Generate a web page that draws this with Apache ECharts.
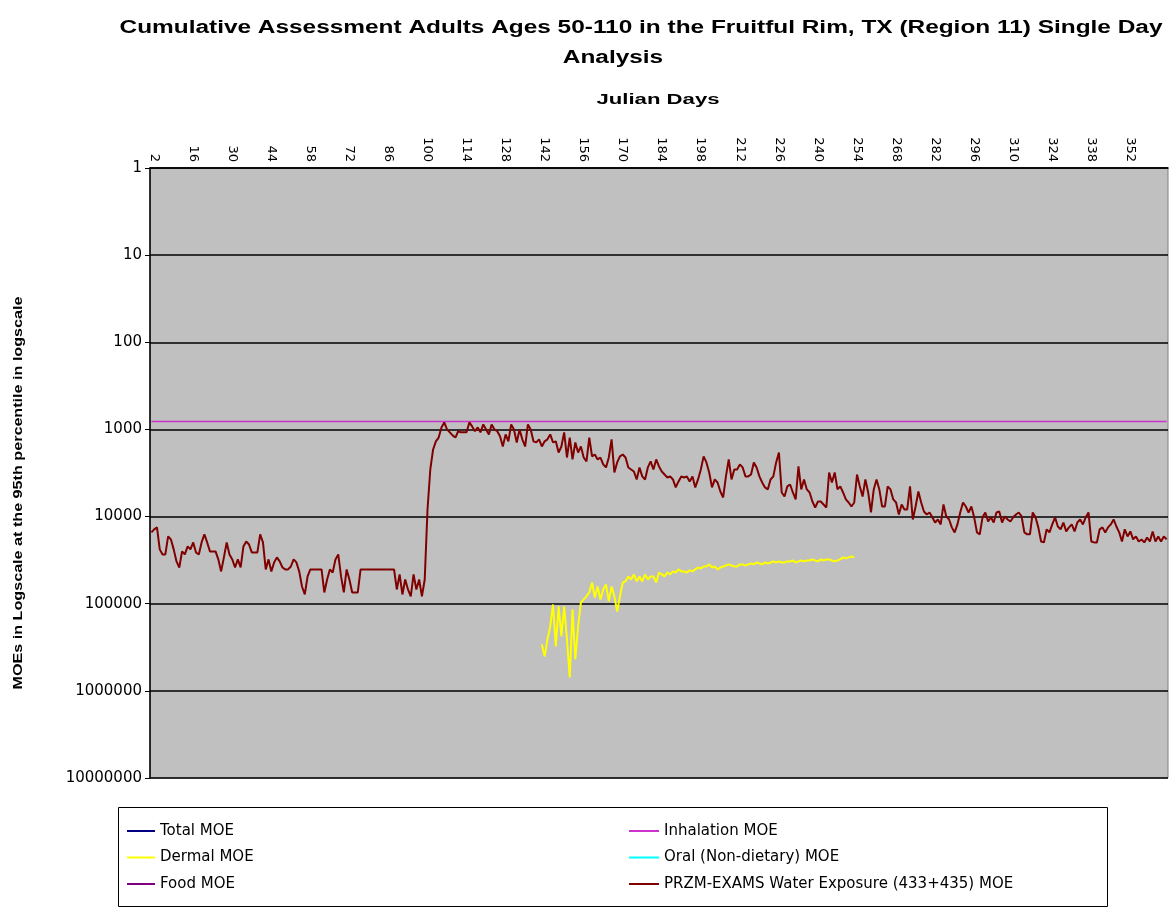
<!DOCTYPE html>
<html>
<head>
<meta charset="utf-8">
<script src="https://cdn.jsdelivr.net/npm/echarts@6/dist/echarts.min.js"></script>
<style>
html,body{margin:0;padding:0;background:#fff;}
#chart{width:1169px;height:907px;}
</style>
</head>
<body>
<div id="chart"></div>
<script>
// ---------------- DATA ----------------
const titleLine1 = 'Cumulative Assessment Adults Ages 50-110 in the Fruitful Rim, TX (Region 11) Single Day';
const titleLine2 = 'Analysis';
const xAxisName = 'Julian Days';
const yAxisName = 'MOEs in Logscale at the 95th percentile in logscale';

const days = Array.from({length: 365}, (_, i) => String(i + 1));

const seriesNames = ['Total MOE', 'Dermal MOE', 'Food MOE', 'Inhalation MOE',
  'Oral (Non-dietary) MOE', 'PRZM-EXAMS Water Exposure (433+435) MOE'];

// PRZM-EXAMS water exposure MOE, days 1..365
const waterMOE = [
  15200,14000,13300,23800,27200,27200,16900,18300,23800,32700,
  38400,25100,27200,22000,23800,19800,25800,27200,19800,16000,
  19800,25100,25100,25100,31000,42600,29400,19800,27200,31000,
  38400,31000,38400,22000,19300,20900,25800,25800,25800,16000,
  19800,40400,31000,42600,33600,29400,32700,38400,40400,40400,
  37400,31000,33600,42600,63400,78300,48600,40400,40400,40400,
  40400,40400,74200,52700,40400,43800,31000,27200,48600,74200,
  40400,52700,74200,74200,74200,40400,40400,40400,40400,40400,
  40400,40400,40400,40400,40400,40400,40400,40400,68600,46100,
  78300,52700,68600,82500,46100,68600,52700,82500,52700,8290,
  2880,1700,1370,1240,948,831,1000,1080,1170,1240,
  1050,1080,1080,1080,831,924,1050,948,1080,876,
  1000,1140,876,1000,1050,1200,1570,1140,1370,876,
  1000,1410,1000,1300,1570,876,1000,1370,1410,1300,
  1570,1370,1300,1140,1410,1370,1840,1570,1080,2100,
  1240,2210,1410,1840,1570,2100,2330,1240,2040,1940,
  2210,2100,2520,2730,2100,1300,3120,2390,2040,1940,
  2100,2730,2880,3040,3750,2730,3460,3750,2730,2330,
  2880,2210,2660,3040,3290,3560,3460,3750,4630,3950,
  3460,3560,3460,3950,3460,4630,3750,2880,2040,2390,
  3120,4630,3750,4060,5150,6040,3460,2210,3750,2880,
  2880,2520,2730,3460,3460,3290,2390,2730,3460,4060,
  4630,4880,3750,3460,2390,1840,5290,5880,4510,4280,
  5290,6360,2660,4880,3750,4880,5290,6710,7860,6710,
  6710,7260,7860,3120,4060,3120,4880,4510,5290,6360,
  6890,7660,6890,3290,4510,5880,3750,5290,8970,4880,
  3750,4880,7660,7660,4510,4880,6360,6890,9460,7260,
  8290,8290,4510,10800,7660,5150,6890,8740,9460,8970,
  10200,11700,10800,12300,7260,9960,10800,13300,15200,12300,
  8970,6890,7660,8970,7660,10200,15200,16000,10200,8970,
  11400,10200,11700,8970,8740,11700,9960,10800,11400,10200,
  9460,8970,9960,15200,16000,16000,8970,10200,13300,19300,
  19800,14000,15200,12300,10200,13000,14000,11700,14800,13300,
  12300,14800,11700,10800,12300,10200,8970,19300,19800,19800,
  14000,13300,15200,13300,12300,10800,13000,15200,19300,14000,
  16900,14800,18300,16900,19300,18300,19800,17400,19300,14800,
  19300,16900,19300,16900,18300
];

// Dermal MOE, days 141..253
const dermalStartDay = 141;
const dermalMOE = [
  293000,403000,257000,182000,102000,309000,107000,237000,107000,257000,
  702000,116000,436000,182000,96800,89300,82500,74200,57000,85000,
  63400,89300,68600,60100,94000,63400,82500,123000,82500,57000,
  55500,48600,52700,46100,55500,48600,55500,46100,52700,48600,
  48600,57000,43800,46100,48600,43800,46100,42600,43800,40400,
  42600,42600,43800,41500,42600,40400,38400,39400,37400,37400,
  35400,38400,37400,40400,38400,37400,36400,35400,36400,37400,
  37400,35400,35400,36400,35400,34500,35400,33600,34500,35400,
  33600,34500,33600,32700,33600,32700,33600,33600,32700,32700,
  31900,33600,32700,31900,32700,31900,31900,31000,31900,32700,
  31000,31900,31000,31000,31900,32700,31900,31000,29400,30200,
  29400,28700,29400
];

// Inhalation MOE (constant over the year)
const inhalationMOE = 810;

// No visible data for these series in the chart
const totalMOE = [];
const foodMOE = [];
const oralMOE = [];

// ---------------- BUILD ----------------
const dermalSeries = days.map((d, i) => {
  const k = i + 1 - dermalStartDay;
  return (k >= 0 && k < dermalMOE.length) ? dermalMOE[k] : null;
});
const inhalationSeries = days.map(() => inhalationMOE);

const mctx = document.createElement('canvas').getContext('2d');
function fitScale(text, font, target) {
  mctx.font = font;
  return target / mctx.measureText(text).width;
}
const titleFont = 'bold 18px "Liberation Sans"';
const titleScale = fitScale(titleLine1, titleFont, 1043);
const jdFont = 'bold 14px "Liberation Sans"';
const jdScale = fitScale(xAxisName, jdFont, 123);
const ynFont = 'bold 13px "Liberation Sans"';
const ynScale = fitScale(yAxisName, ynFont, 393);

const colors = ['#000080', '#ffff00', '#800080', '#cc33cc', '#00ffff', '#800000'];

const chart = echarts.init(document.getElementById('chart'), null, {renderer: 'canvas'});

const legendText = {color: '#000', fontFamily: 'DejaVu Sans', fontSize: 15, lineHeight: 18};

const option = {
  animation: false,
  color: colors,
  grid: {left: 150, right: 1, top: 168, bottom: 129, show: true,
         backgroundColor: '#c0c0c0', borderColor: '#808080', borderWidth: 1},
  xAxis: {
    type: 'category', position: 'top', data: days, boundaryGap: true,
    axisLine: {onZero: false, lineStyle: {color: '#000', width: 1.5}},
    axisTick: {interval: 0, length: 4, lineStyle: {color: '#000'}},
    axisLabel: {interval: (i) => i % 14 === 1, rotate: 90, fontFamily: 'DejaVu Sans',
                fontSize: 13, color: '#000', margin: 6},
    splitLine: {show: false}
  },
  yAxis: {
    type: 'log', logBase: 10, min: 1, max: 10000000, inverse: true,
    axisLine: {show: true, lineStyle: {color: '#000', width: 1.5}},
    axisTick: {show: true, length: 5, lineStyle: {color: '#000'}},
    axisLabel: {formatter: (v) => String(Math.round(v)), fontFamily: 'DejaVu Sans',
                fontSize: 15, color: '#000', margin: 8},
    splitLine: {show: true, lineStyle: {color: '#000', width: 1.5}}
  },
  legend: [
    {orient: 'vertical', left: 122, top: 817, itemWidth: 28, itemHeight: 2, itemGap: 8.5,
     icon: 'rect', textStyle: legendText, selectedMode: false,
     data: [seriesNames[0], seriesNames[1], seriesNames[2]]},
    {orient: 'vertical', left: 624, top: 817, itemWidth: 30, itemHeight: 2, itemGap: 8.5,
     icon: 'rect', textStyle: legendText, selectedMode: false,
     data: [seriesNames[3], seriesNames[4], seriesNames[5]]}
  ],
  graphic: [
    {type: 'rect', z: -1, shape: {x: 118.5, y: 807.5, width: 989, height: 99},
     style: {fill: '#fff', stroke: '#000', lineWidth: 1}},
    {type: 'text', x: 641, y: 28, scaleX: titleScale,
     style: {text: titleLine1, font: titleFont, fill: '#000', textAlign: 'center', textVerticalAlign: 'middle'}},
    {type: 'text', x: 613, y: 58, scaleX: titleScale,
     style: {text: titleLine2, font: titleFont, fill: '#000', textAlign: 'center', textVerticalAlign: 'middle'}},
    {type: 'text', x: 658, y: 100, scaleX: jdScale,
     style: {text: xAxisName, font: jdFont, fill: '#000', textAlign: 'center', textVerticalAlign: 'middle'}},
    {type: 'text', x: 18, y: 493, rotation: Math.PI / 2, scaleX: ynScale,
     style: {text: yAxisName, font: ynFont, fill: '#000', textAlign: 'center', textVerticalAlign: 'middle'}}
  ],
  series: [
    {name: seriesNames[0], type: 'line', data: totalMOE, showSymbol: false, lineStyle: {width: 1.5, color: colors[0]}, itemStyle: {color: colors[0]}},
    {name: seriesNames[1], type: 'line', data: dermalSeries, showSymbol: false, connectNulls: false,
     lineStyle: {width: 2, color: colors[1]}, itemStyle: {color: colors[1]}, z: 3},
    {name: seriesNames[2], type: 'line', data: foodMOE, showSymbol: false, lineStyle: {width: 1.5, color: colors[2]}, itemStyle: {color: colors[2]}},
    {name: seriesNames[3], type: 'line', data: inhalationSeries, showSymbol: false,
     lineStyle: {width: 1.5, color: colors[3]}, itemStyle: {color: colors[3]}, z: 2},
    {name: seriesNames[4], type: 'line', data: oralMOE, showSymbol: false, lineStyle: {width: 1.5, color: colors[4]}, itemStyle: {color: colors[4]}},
    {name: seriesNames[5], type: 'line', data: waterMOE, showSymbol: false,
     lineStyle: {width: 2, color: colors[5]}, itemStyle: {color: colors[5]}, z: 4}
  ]
};
chart.setOption(option);
</script>
</body>
</html>
